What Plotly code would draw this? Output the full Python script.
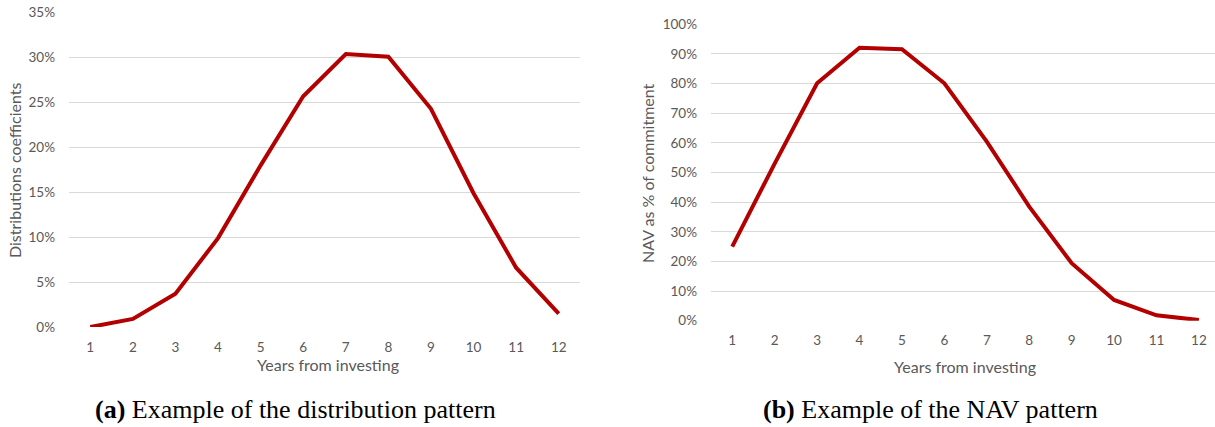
import plotly.graph_objects as go

years = list(range(1, 13))
distribution_coeffs = [0.000, 0.009, 0.037, 0.099, 0.180, 0.257, 0.304, 0.301, 0.243, 0.149, 0.066, 0.015]
nav_pct = [0.250, 0.530, 0.801, 0.921, 0.916, 0.801, 0.604, 0.385, 0.194, 0.070, 0.018, 0.002]
left_yticks = [0, 0.05, 0.10, 0.15, 0.20, 0.25, 0.30, 0.35]
right_yticks = [i / 10 for i in range(11)]

LINE = "#B30000"
GRID = "#D9D9D9"
TXT = "#595959"
FONT = "Lato"

W, H = 1215, 427

def px(x):
    return x / W

def py(y):
    return (H - y) / H

fig = go.Figure()
fig.add_trace(go.Scatter(x=years, y=distribution_coeffs, mode="lines",
                         line=dict(color=LINE, width=4), xaxis="x", yaxis="y",
                         showlegend=False, hoverinfo="skip"))
fig.add_trace(go.Scatter(x=years, y=nav_pct, mode="lines",
                         line=dict(color=LINE, width=4), xaxis="x2", yaxis="y2",
                         showlegend=False, hoverinfo="skip"))

tickfont = dict(family=FONT, size=13.5, color=TXT)
xcommon = dict(tickmode="array", tickvals=years, ticktext=[str(v) for v in years],
               showgrid=False, zeroline=False, showline=False, ticks="",
               tickfont=tickfont, ticklabelstandoff=10, automargin=False)
ycommon = dict(showgrid=True, gridcolor=GRID, gridwidth=1.3, zeroline=False,
               showline=False, ticks="", tickformat=".0%", tickfont=tickfont,
               ticklabelstandoff=13, automargin=False)

fig.update_layout(
    width=W, height=H,
    margin=dict(l=0, r=0, t=0, b=0, pad=0),
    paper_bgcolor="white", plot_bgcolor="white",
    xaxis=dict(domain=[px(69), px(580)], range=[0.5, 12.5], anchor="y", **xcommon),
    yaxis=dict(domain=[py(327), py(12.7)], range=[0, 0.35], tickvals=left_yticks,
               anchor="x", **ycommon),
    xaxis2=dict(domain=[px(711), 1.0], range=[0.5, 0.5 + 504 / 42.43], anchor="y2", **xcommon),
    yaxis2=dict(domain=[py(320.7), py(24.3)], range=[0, 1.0], tickvals=right_yticks,
                anchor="x2", **ycommon),
)

titlefont = dict(family=FONT, size=16, color=TXT)
caption_font = dict(family="Liberation Serif", size=26, color="black")
annotations = [
    dict(text="Years from investing", x=px(328), y=py(364), xref="paper", yref="paper",
         showarrow=False, font=titlefont, xanchor="center", yanchor="middle"),
    dict(text="Years from investing", x=px(965), y=py(366), xref="paper", yref="paper",
         showarrow=False, font=titlefont, xanchor="center", yanchor="middle"),
    dict(text="Distributions coefficients", x=px(14), y=py(170), xref="paper", yref="paper",
         showarrow=False, font=titlefont, textangle=-90, xanchor="center", yanchor="middle"),
    dict(text="NAV as % of commitment", x=px(647), y=py(173), xref="paper", yref="paper",
         showarrow=False, font=titlefont, textangle=-90, xanchor="center", yanchor="middle"),
    dict(text="<b>(a)</b> Example of the distribution pattern", x=px(295), y=py(409),
         xref="paper", yref="paper", showarrow=False, font=caption_font,
         xanchor="center", yanchor="middle"),
    dict(text="<b>(b)</b> Example of the NAV pattern", x=px(930), y=py(409),
         xref="paper", yref="paper", showarrow=False, font=caption_font,
         xanchor="center", yanchor="middle"),
]
fig.update_layout(annotations=annotations)

fig.write_html("out.html")
